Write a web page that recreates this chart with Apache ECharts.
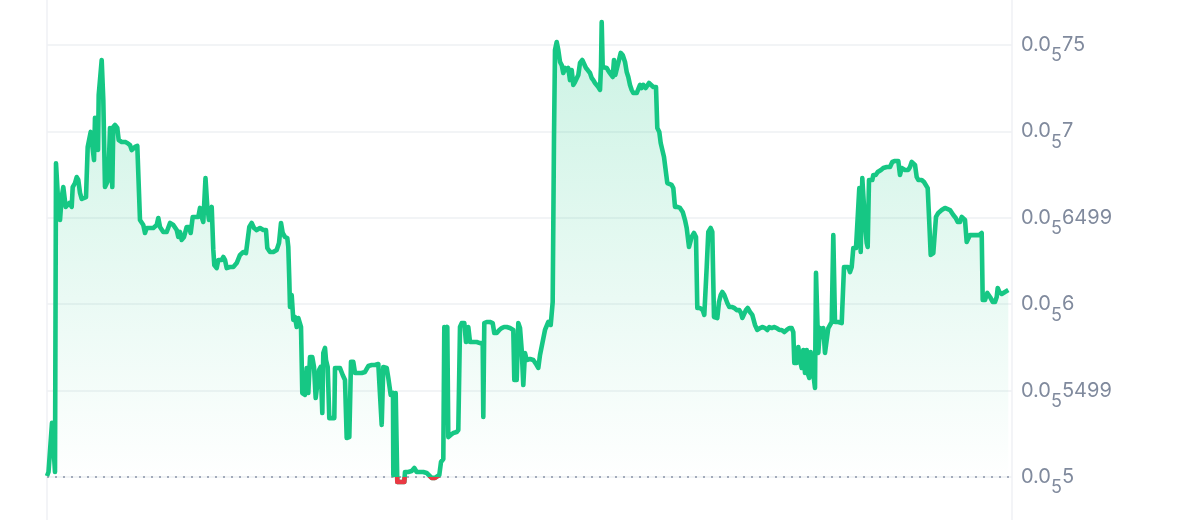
<!DOCTYPE html>
<html>
<head>
<meta charset="utf-8">
<script src="https://cdn.jsdelivr.net/npm/echarts@6/dist/echarts.min.js"></script>
<style>
html,body{margin:0;padding:0;background:#fff;}
#chart{width:1200px;height:520px;}
</style>
</head>
<body>
<div id="chart"></div>
<script>
// time in 10-minute steps since the start of the window
const steps = [
0,1.5,5,7,8,9,11,13,14.7,16.3,18,18.7,20.7,22.3,24.7,25.7,28,29.7,31.3,33,34.7,36.3,39,40.7,42.3,43.7,45.3,47,48,49.7,
51,51.7,53,54.7,56.3,58,59.7,61.3,63,64,65.3,66.3,68,70.3,71.7,74.7,76.3,78,80.3,83,84.7,86.3,88,90.3,93,94.7,96.3,98,99.7,103,
106.3,109.7,111.3,113,114.7,116.3,119.7,123,126.3,129.7,131.3,133,134.7,137,139.7,142,143.7,145.7,149,151.3,153,154.7,156.3,158.5,160.3,162,164.7,166.3,167.3,169.7,
171.3,173,174.7,176.3,178,179.7,183,186.3,189.7,193,196.3,199,200.3,202.3,204.7,207,209.7,213,216.3,219,220.3,223,226.3,229.7,232,234,235.7,238,240.3,241.3,
242.3,243,244.7,246.3,248,249.7,251.3,253,254,255.3,258,259.7,261.3,263,265.3,267,268.7,270.3,272,273.7,275.3,276.3,278,279,280.7,282.3,284.7,287.3,288,290.3,
293,295.7,298,299.7,302.3,304,306.3,308,311.3,314.7,318,321.3,324.7,328,331.3,333,334.7,336.3,339.7,341.3,343.7,346,346.3,348.7,349.7,350.3,352.3,354.7,357.3,358,
361.3,364.7,367.3,369.7,373,376.3,379.7,381.3,384.7,388,389.7,392.3,394,396.3,397.3,399,400.3,401.3,403.7,406.3,409.7,411.3,413,414.7,417.3,419,421.3,423,426.3,429.7,
433,435.7,436.3,437.3,439.7,443,445.7,447.3,449.7,452.3,454.7,457,459.7,463,466.3,467.3,469.7,471.3,473,474.7,476.3,478,479.7,483,486.3,489.7,491.3,493,494.7,498,
501.3,503.7,505.7,507,508,509.7,511.3,513,514.7,516.3,518,519.7,521.3,523,524.7,526.3,528,529.7,531.3,533,535.3,537.3,539,540.7,543,544.7,546.3,548,549.7,551.3,
553,554,554.7,555.7,557.3,559.7,562,564,565.7,567,568.3,570.3,572,573.7,575.7,578,579.7,581.3,583,584.7,586.3,588,589.7,591.3,593,594.7,596.3,598.7,600.3,602,
604,606.3,609,610.3,612.3,613.7,615.3,617,618.7,620.3,622.3,624.7,626.3,628,630.3,633,635.7,638,639.7,642,644.7,647,649,650.3,653,655.7,657.3,659,659.7,661.3,
663.7,665.3,667,668.7,670.3,672,673.7,675.3,677.3,679,680.3,682.3,684.7,687.3,689.7,692.3,694,695.3,697,699,700.7,703,705.3,707,708,710.3,713,715.7,718,720.3,
722.3,724.7,727,729.7,732.3,734.7,737.3,739.7,742.3,744.7,746.3,747.3,749.7,751.3,753,754.7,756.3,758,759.7,761.3,762.3,763.7,765.7,768,769,771.3,773,774.7,776.3,778,
779.7,781.3,783,784.7,786.3,788,791.3,794.7,797,798.7,801.3,803,804.7,806.3,809,810.3,812.3,813.7,815.3,816.3,818,819.7,820.7,822,823.7,825.3,826.3,828.7,830.7,832.3,
834,836.3,839.7,843,845.3,848,851.3,853,854.7,856.3,858,859.7,861.3,863,864.7,866.3,868,869.7,871.3,874.7,877,879,880.7,882.3,883.7,886.3,888,889,891.3,894.7,
898,903,904.7,906.3,908.7,910.7,913,914.7,916.3,918,919.7,921.3,923,926.3,929.7,932.3,934.7,935.7,938,940.3,943,945.7,948,949.7,950.7,952.3,954.7,958,961.3
];
const prices = [
5.006e-6,5.029e-6,5.313e-6,5.313e-6,5.029e-6,6.815e-6,6.609e-6,6.487e-6,6.620e-6,6.678e-6,6.678e-6,6.563e-6,6.557e-6,6.586e-6,6.563e-6,6.678e-6,6.701e-6,6.736e-6,6.719e-6,6.644e-6,6.609e-6,6.620e-6,6.620e-6,6.910e-6,6.921e-6,6.997e-6,7.008e-6,6.834e-6,7.078e-6,7.083e-6,
6.892e-6,7.211e-6,7.222e-6,7.413e-6,7.183e-6,6.678e-6,6.672e-6,6.719e-6,7.020e-6,7.025e-6,6.678e-6,7.025e-6,7.037e-6,7.020e-6,6.950e-6,6.939e-6,6.950e-6,6.939e-6,6.933e-6,6.921e-6,6.892e-6,6.887e-6,6.910e-6,6.916e-6,6.487e-6,6.476e-6,6.458e-6,6.412e-6,6.441e-6,6.441e-6,
6.441e-6,6.458e-6,6.499e-6,6.447e-6,6.441e-6,6.418e-6,6.418e-6,6.470e-6,6.458e-6,6.429e-6,6.389e-6,6.418e-6,6.372e-6,6.389e-6,6.447e-6,6.447e-6,6.412e-6,6.505e-6,6.505e-6,6.505e-6,6.557e-6,6.505e-6,6.476e-6,6.730e-6,6.563e-6,6.487e-6,6.563e-6,6.314e-6,6.227e-6,6.209e-6,
6.256e-6,6.267e-6,6.256e-6,6.273e-6,6.256e-6,6.209e-6,6.215e-6,6.215e-6,6.238e-6,6.285e-6,6.302e-6,6.296e-6,6.285e-6,6.447e-6,6.470e-6,6.441e-6,6.429e-6,6.441e-6,6.429e-6,6.429e-6,6.325e-6,6.302e-6,6.302e-6,6.314e-6,6.354e-6,6.470e-6,6.412e-6,6.389e-6,6.383e-6,6.331e-6,
6.140e-6,5.984e-6,6.053e-6,5.909e-6,5.926e-6,5.868e-6,5.920e-6,5.926e-6,5.868e-6,5.486e-6,5.475e-6,5.631e-6,5.486e-6,5.694e-6,5.694e-6,5.637e-6,5.457e-6,5.463e-6,5.619e-6,5.637e-6,5.370e-6,5.718e-6,5.747e-6,5.677e-6,5.637e-6,5.341e-6,5.341e-6,5.341e-6,5.631e-6,5.631e-6,
5.631e-6,5.590e-6,5.561e-6,5.226e-6,5.231e-6,5.666e-6,5.666e-6,5.602e-6,5.602e-6,5.602e-6,5.608e-6,5.642e-6,5.648e-6,5.648e-6,5.654e-6,5.648e-6,5.301e-6,5.637e-6,5.631e-6,5.573e-6,5.475e-6,5.486e-6,5.012e-6,5.486e-6,5.486e-6,4.971e-6,4.971e-6,4.971e-6,4.971e-6,5.029e-6,
5.029e-6,5.035e-6,5.052e-6,5.029e-6,5.029e-6,5.029e-6,5.023e-6,5.012e-6,4.995e-6,4.995e-6,4.997e-6,5.012e-6,5.087e-6,5.104e-6,5.868e-6,5.851e-6,5.868e-6,5.231e-6,5.243e-6,5.255e-6,5.260e-6,5.272e-6,5.868e-6,5.891e-6,5.891e-6,5.781e-6,5.868e-6,5.781e-6,5.781e-6,5.781e-6,
5.775e-6,5.775e-6,5.347e-6,5.891e-6,5.897e-6,5.897e-6,5.891e-6,5.833e-6,5.833e-6,5.851e-6,5.862e-6,5.868e-6,5.868e-6,5.862e-6,5.851e-6,5.561e-6,5.561e-6,5.891e-6,5.862e-6,5.735e-6,5.532e-6,5.718e-6,5.677e-6,5.683e-6,5.677e-6,5.648e-6,5.631e-6,5.706e-6,5.700e-6,5.851e-6,
5.897e-6,5.880e-6,6.013e-6,6.968e-6,7.471e-6,7.517e-6,7.471e-6,7.402e-6,7.384e-6,7.338e-6,7.367e-6,7.355e-6,7.367e-6,7.297e-6,7.355e-6,7.269e-6,7.286e-6,7.297e-6,7.326e-6,7.396e-6,7.413e-6,7.402e-6,7.367e-6,7.355e-6,7.338e-6,7.309e-6,7.297e-6,7.280e-6,7.269e-6,7.257e-6,
7.240e-6,7.373e-6,7.633e-6,7.373e-6,7.367e-6,7.367e-6,7.344e-6,7.338e-6,7.315e-6,7.413e-6,7.326e-6,7.315e-6,7.413e-6,7.454e-6,7.442e-6,7.402e-6,7.344e-6,7.315e-6,7.269e-6,7.240e-6,7.222e-6,7.211e-6,7.222e-6,7.228e-6,7.269e-6,7.251e-6,7.269e-6,7.251e-6,7.240e-6,7.280e-6,
7.269e-6,7.257e-6,7.257e-6,7.020e-6,6.997e-6,6.933e-6,6.939e-6,6.852e-6,6.863e-6,6.701e-6,6.690e-6,6.690e-6,6.672e-6,6.563e-6,6.563e-6,6.557e-6,6.534e-6,6.487e-6,6.441e-6,6.331e-6,6.389e-6,6.412e-6,6.389e-6,5.978e-6,5.978e-6,5.966e-6,5.938e-6,5.938e-6,6.215e-6,6.418e-6,
6.441e-6,6.418e-6,5.926e-6,5.920e-6,5.920e-6,6.013e-6,6.053e-6,6.071e-6,6.053e-6,6.042e-6,6.007e-6,5.984e-6,5.984e-6,5.978e-6,5.966e-6,5.966e-6,5.949e-6,5.920e-6,5.920e-6,5.966e-6,5.978e-6,5.955e-6,5.938e-6,5.938e-6,5.880e-6,5.851e-6,5.862e-6,5.868e-6,5.862e-6,5.851e-6,
5.868e-6,5.862e-6,5.868e-6,5.862e-6,5.851e-6,5.851e-6,5.839e-6,5.851e-6,5.862e-6,5.862e-6,5.839e-6,5.660e-6,5.660e-6,5.752e-6,5.677e-6,5.631e-6,5.735e-6,5.602e-6,5.735e-6,5.590e-6,5.573e-6,5.723e-6,5.718e-6,5.515e-6,6.181e-6,5.718e-6,5.862e-6,5.810e-6,5.862e-6,5.718e-6,
5.718e-6,5.862e-6,5.868e-6,5.897e-6,6.400e-6,5.897e-6,5.897e-6,5.891e-6,6.215e-6,6.209e-6,6.215e-6,6.186e-6,6.215e-6,6.325e-6,6.325e-6,6.314e-6,6.672e-6,6.302e-6,6.730e-6,6.736e-6,6.470e-6,6.354e-6,6.331e-6,6.719e-6,6.730e-6,6.719e-6,6.748e-6,6.748e-6,6.765e-6,6.759e-6,
6.777e-6,6.788e-6,6.794e-6,6.794e-6,6.823e-6,6.829e-6,6.829e-6,6.748e-6,6.788e-6,6.794e-6,6.777e-6,6.788e-6,6.777e-6,6.794e-6,6.823e-6,6.817e-6,6.806e-6,6.736e-6,6.719e-6,6.719e-6,6.707e-6,6.701e-6,6.672e-6,6.470e-6,6.285e-6,6.296e-6,6.296e-6,6.505e-6,6.528e-6,6.545e-6,
6.557e-6,6.545e-6,6.534e-6,6.516e-6,6.499e-6,6.476e-6,6.476e-6,6.505e-6,6.505e-6,6.487e-6,6.360e-6,6.360e-6,6.400e-6,6.400e-6,6.400e-6,6.400e-6,6.412e-6,6.024e-6,6.024e-6,6.065e-6,6.042e-6,6.013e-6,6.013e-6,6.042e-6,6.094e-6,6.071e-6,6.059e-6,6.071e-6,6.082e-6
];
const openPrice = 5e-6;
const windowSteps = [0, 965];
const tickValues = [5e-6, 5.5e-6, 6e-6, 6.5e-6, 7e-6, 7.5e-6];
const tickLead = '0.0';
const tickZeros = '5';
const tickDigits = ['5', '5499', '6', '6499', '7', '75'];

const GREEN = '#16c784', RED = '#ea3943', LABEL = '#808a9d', FRAME = '#eff1f4';
const FONT = 'Inter';
const LINE_W = 4.6;
// layout of the price grid (pixels), used to line up the red "below open" band
const PLOT_TOP = 45, PLOT_BOTTOM = 43, H = 520;
const unitsPerPx = (tickValues[tickValues.length - 1] - tickValues[0]) / (H - PLOT_TOP - PLOT_BOTTOM);
const redTop = H - PLOT_BOTTOM + LINE_W / 2;
const redMax = openPrice - (LINE_W / 2) * unitsPerPx;
const redMin = openPrice - PLOT_BOTTOM * unitsPerPx;

const chart = echarts.init(document.getElementById('chart'), null, {renderer: 'canvas'});
const data = steps.map((s, i) => [s, prices[i]]);

const option = {
  animation: false,
  backgroundColor: '#ffffff',
  grid: [
    {left: 47, right: 188, top: PLOT_TOP, bottom: PLOT_BOTTOM, containLabel: false},
    {left: 47, right: 188, top: 0, bottom: 0, containLabel: false},
    {left: 47, right: 188, top: redTop, bottom: 0, containLabel: false}
  ],
  xAxis: [
    {type: 'value', gridIndex: 0, min: windowSteps[0], max: windowSteps[1], show: false},
    {type: 'value', gridIndex: 1, min: 0, max: 1, show: false},
    {type: 'value', gridIndex: 2, min: windowSteps[0], max: windowSteps[1], show: false}
  ],
  yAxis: [{
    type: 'value', gridIndex: 0, position: 'right',
    min: tickValues[0], max: tickValues[tickValues.length - 1], interval: 5e-7,
    axisLine: {show: false},
    axisTick: {show: false},
    splitLine: {show: true, lineStyle: {color: '#eef0f3', width: 1.5}},
    axisLabel: {
      margin: 9,
      formatter: function (v) {
        const i = tickValues.findIndex(t => Math.abs(t - v) < 1e-10);
        if (i < 0) return '';
        return '{a|' + tickLead + '}{s|' + tickZeros + '}{a|' + tickDigits[i] + '}';
      },
      rich: {
        a: {fontSize: 20, lineHeight: 20, color: LABEL, fontFamily: FONT},
        s: {fontSize: 18, lineHeight: 18, color: LABEL, fontFamily: FONT, padding: [22, 0, 0, 0]}
      }
    }
  }, {
    type: 'value', gridIndex: 1, position: 'left', min: 0, max: 1,
    axisLine: {show: true, lineStyle: {color: FRAME, width: 1.5}},
    axisTick: {show: false}, axisLabel: {show: false}, splitLine: {show: false}
  }, {
    type: 'value', gridIndex: 1, position: 'right', min: 0, max: 1,
    axisLine: {show: true, lineStyle: {color: FRAME, width: 1.5}},
    axisTick: {show: false}, axisLabel: {show: false}, splitLine: {show: false}
  }, {
    type: 'value', gridIndex: 2, min: redMin, max: redMax, show: false
  }],
  series: [{
    type: 'line',
    xAxisIndex: 0,
    yAxisIndex: 0,
    data: data,
    clip: false,
    z: 3,
    showSymbol: false,
    symbol: 'none',
    lineStyle: {width: LINE_W, color: GREEN, join: 'round'},
    areaStyle: {
      origin: openPrice,
      color: new echarts.graphic.LinearGradient(0, 0, 0, 1, [
        {offset: 0, color: 'rgba(22,199,132,0.32)'},
        {offset: 1, color: 'rgba(22,199,132,0.0)'}
      ])
    }
  }, {
    type: 'line',
    xAxisIndex: 2,
    yAxisIndex: 3,
    data: data,
    clip: true,
    z: 4,
    showSymbol: false,
    symbol: 'none',
    silent: true,
    lineStyle: {width: LINE_W, color: RED, join: 'round'}
  }, {
    type: 'line',
    xAxisIndex: 0,
    yAxisIndex: 0,
    z: 2,
    data: windowSteps.map(s => [s, openPrice]),
    showSymbol: false,
    symbol: 'none',
    silent: true,
    lineStyle: {color: '#a3abbb', width: 2, type: [2, 6]}
  }]
};
chart.setOption(option);
</script>
</body>
</html>
